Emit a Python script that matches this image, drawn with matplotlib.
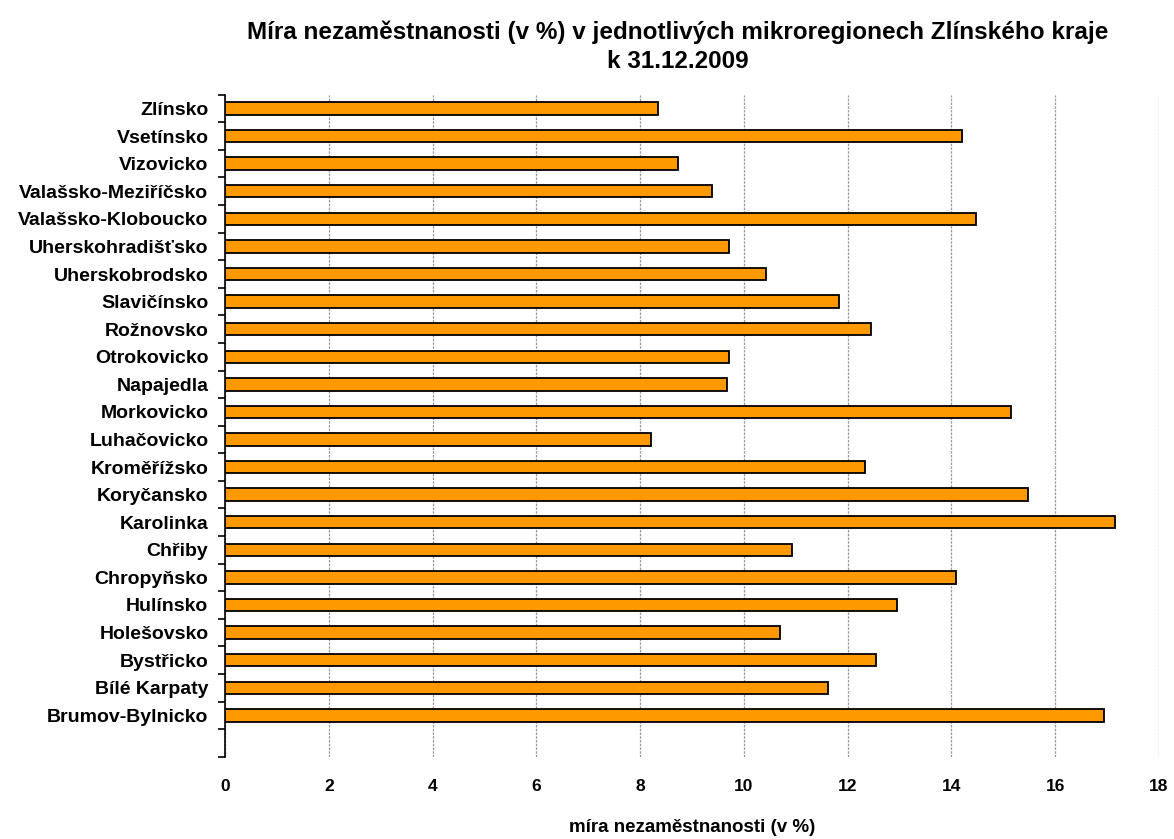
import numpy as np
import matplotlib.pyplot as plt

plt.rcParams['font.family'] = ['Liberation Sans', 'DejaVu Sans']

# Mikroregiony odshora dolu
regiony = ['Zlínsko', 'Vsetínsko', 'Vizovicko', 'Valašsko-Meziříčsko',
           'Valašsko-Kloboucko', 'Uherskohradišťsko', 'Uherskobrodsko',
           'Slavičínsko', 'Rožnovsko', 'Otrokovicko', 'Napajedla',
           'Morkovicko', 'Luhačovicko', 'Kroměřížsko', 'Koryčansko',
           'Karolinka', 'Chřiby', 'Chropyňsko', 'Hulínsko', 'Holešovsko',
           'Bystřicko', 'Bílé Karpaty', 'Brumov-Bylnicko']
mira = [8.35, 14.21, 8.73, 9.38, 14.47, 9.71, 10.43, 11.83, 12.45, 9.71,
        9.68, 15.15, 8.20, 12.33, 15.48, 17.15, 10.93, 14.08, 12.96, 10.70,
        12.54, 11.62, 16.94]
x_ticks = [0, 2, 4, 6, 8, 10, 12, 14, 16, 18]

fig = plt.figure(figsize=(11.74, 8.39), dpi=100)
ax = fig.add_axes([0.1917, 0.0981, 0.7955, 0.789])

y = np.arange(len(regiony))
ax.barh(y, mira, height=0.45, color='#FF9900', edgecolor='black', linewidth=1.3, zorder=3)

# jedno prazdne misto dole
ax.set_ylim(len(regiony) + 0.5, -0.5)
ax.set_xlim(0, 18)

ax.set_yticks(y)
ax.set_yticklabels(regiony, fontsize=14, fontweight='bold')
ax.tick_params(axis='y', which='major', length=0, pad=12)
ax.set_yticks(np.arange(-0.5, len(regiony) + 1), minor=True)
ax.tick_params(axis='y', which='minor', length=5, width=1.2, direction='out')

ax.set_xticks(x_ticks)
ax.set_xticklabels([str(t) for t in x_ticks], fontsize=12.5, fontweight='bold')
ax.tick_params(axis='x', length=0, pad=16)

ax.grid(axis='x', linestyle=(0, (2, 1)), color='#999999', linewidth=0.9, zorder=0)

for s in ['top', 'right', 'bottom']:
    ax.spines[s].set_visible(False)
ax.spines['left'].set_linewidth(1.2)

ax.set_xlabel('míra nezaměstnanosti (v %)', fontsize=13.5, fontweight='bold', labelpad=18)
fig.suptitle('Míra nezaměstnanosti (v %) v jednotlivých mikroregionech Zlínského kraje\nk 31.12.2009',
             x=0.577, y=0.975, fontsize=17.5, fontweight='bold', linespacing=1.3)

fig.savefig('out.png', dpi=100)
